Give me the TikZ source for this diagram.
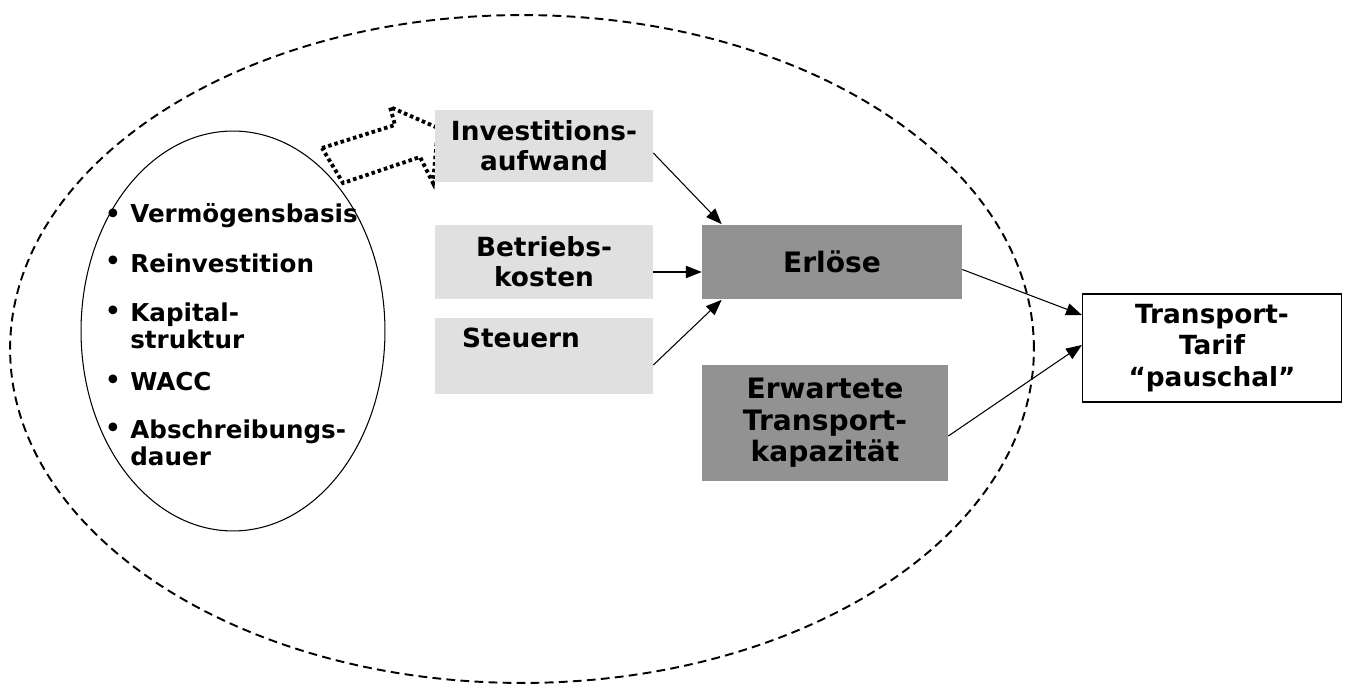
\documentclass[tikz,border=0pt]{standalone}
\usepackage{fontspec}
\setmainfont{DejaVu Sans}
\usetikzlibrary{positioning,arrows.meta,shapes.geometric,calc}
\definecolor{LightTex}{RGB}{224,224,224}
\definecolor{DarkTex}{RGB}{146,146,146}

\begin{document}
\begin{tikzpicture}[x=0.02cm, y=-0.02cm,
  softbox/.style={rectangle, fill=LightTex, minimum width=4.36cm, inner sep=0pt,
    font=\fontsize{15}{17}\selectfont\bfseries, align=center},
  darkbox/.style={rectangle, fill=DarkTex, inner sep=0pt,
    font=\fontsize{16}{18}\selectfont\bfseries, align=center},
  tarifbox/.style={rectangle, draw, line width=0.7pt, fill=white, inner sep=0pt,
    minimum width=5.18cm, minimum height=2.16cm,
    font=\fontsize{15}{18}\selectfont\bfseries, align=center},
  itemtxt/.style={anchor=west, inner sep=0pt, align=left,
    font=\fontsize{14}{15}\selectfont\bfseries},
  dotitem/.style={inner sep=0pt, font=\fontsize{14}{15}\selectfont\bfseries},
  flow/.style={-{Triangle[length=9pt,width=7pt]}, line width=0.6pt},
  hollowarr/.style={line width=2.2pt, dash pattern=on 2pt off 1.7pt},
]
\useasboundingbox (0,0) rectangle (1349,685);
% Outer frame and parameter ellipse
\node[draw, ellipse, line width=1.1pt, dash pattern=on 5pt off 3pt,
  minimum width=20.48cm, minimum height=13.36cm] (rahmen) at (522,349) {};
\node[draw, ellipse, line width=0.6pt,
  minimum width=6.08cm, minimum height=8cm] (basis) at (233,331) {};
% Bullet list
\node[itemtxt] (p1) at (130,216) {Vermögensbasis};
\node[itemtxt] (p2) at (130,263) {Reinvestition};
\node[itemtxt] (p3) at (130,326) {Kapital-\\struktur};
\node[itemtxt] (p4) at (130,382) {WACC};
\node[itemtxt] (p5) at (130,443) {Abschreibungs-\\dauer};
\foreach \n/\y in {d1/216,d2/263,d3/313,d4/382,d5/430}
  \node[dotitem] (\n) at (113,\y) {•};
% Hollow dotted arrow
\draw[hollowarr] (322,148) -- (395,125) -- (390,107) -- (438,128)
  -- (433,183) -- (420,157) -- (343,183) -- cycle;
% Cost boxes
\node[softbox, minimum height=1.44cm] (inv) at (544,146) {Investitions-\\aufwand};
\node[softbox, minimum height=1.5cm] (betr) at (544,262) {Betriebs-\\kosten};
\node[softbox, minimum height=1.54cm] (steu) at (544,356) {};
\node[inner sep=0pt, font=\fontsize{15}{17}\selectfont\bfseries] (steutxt) at (521,338) {Steuern};
% Result boxes
\node[darkbox, minimum width=5.2cm, minimum height=1.5cm] (erl) at (832,262) {Erlöse};
\node[darkbox, minimum width=4.92cm, minimum height=2.34cm] (erw) at (825,423) {Erwartete\\Transport-\\kapazität};
\node[tarifbox] (tarif) at (1212,348) {Transport-\\Tarif\\“pauschal”};
% Arrows
\draw[flow] ([yshift=-0.14cm]inv.east) -- ([xshift=0.4cm]erl.north west);
\draw[flow] ([yshift=-0.2cm]betr.east) -- ([yshift=-0.2cm]erl.west);
\draw[flow] ([yshift=-0.18cm]steu.east) -- ([xshift=0.4cm]erl.south west);
\draw[flow] ([yshift=-0.15cm]erl.east) -- ([yshift=0.66cm]tarif.west);
\draw[flow] ([yshift=-0.26cm]erw.east) -- ([yshift=0.06cm]tarif.west);
\end{tikzpicture}
\end{document}
